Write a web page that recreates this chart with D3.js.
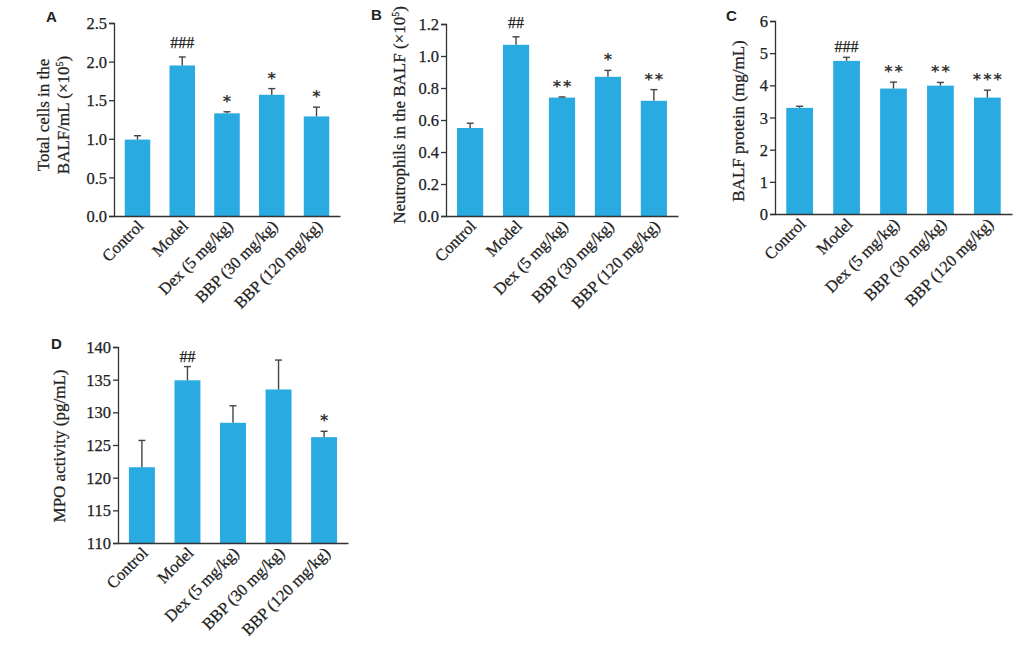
<!DOCTYPE html>
<html>
<head>
<meta charset="utf-8">
<script src="https://cdn.jsdelivr.net/npm/d3@7"></script>
<style>
  body { margin: 0; background: #fff; }
  svg text { font-family: "Liberation Serif", "Times New Roman", serif; fill: #222; stroke: #222; stroke-width: 0.25px; }
  .panel-label { font-family: "Liberation Sans", Arial, sans-serif !important; font-weight: bold; font-size: 15px; stroke-width: 0 !important; }
</style>
</head>
<body>
<svg id="chart" width="1031" height="666"></svg>
<script>
// groups shared by every panel
var groups = ["Control", "Model", "Dex (5 mg/kg)", "BBP (30 mg/kg)", "BBP (120 mg/kg)"];

// A: total cells in BALF (x10^5 /mL)
var cellsMean = [0.99, 1.95, 1.33, 1.57, 1.29];
var cellsErr  = [0.05, 0.11, 0.02, 0.08, 0.12];
var cellsSig  = ["", "###", "*", "*", "*"];
var cellsTicks = [0, 0.5, 1.0, 1.5, 2.0, 2.5];

// B: neutrophils in BALF (x10^5)
var neutMean = [0.55, 1.07, 0.74, 0.87, 0.72];
var neutErr  = [0.03, 0.05, 0.004, 0.04, 0.07];
var neutSig  = ["", "##", "**", "*", "**"];
var neutTicks = [0, 0.2, 0.4, 0.6, 0.8, 1.0, 1.2];

// C: BALF protein (mg/mL)
var protMean = [3.3, 4.76, 3.9, 3.99, 3.62];
var protErr  = [0.05, 0.11, 0.2, 0.1, 0.23];
var protSig  = ["", "###", "**", "**", "***"];
var protTicks = [0, 1, 2, 3, 4, 5, 6];

// D: MPO activity (pg/mL)
var mpoMean = [121.6, 134.9, 128.4, 133.5, 126.2];
var mpoErr  = [4.1, 2.1, 2.6, 4.5, 0.9];
var mpoSig  = ["", "##", "", "", "*"];
var mpoTicks = [110, 115, 120, 125, 130, 135, 140];

var barColor = "#29abe2",
    axisColor = "#333";

var svg = d3.select("#chart");

function isStar(s) { return s.charAt(0) == "*"; }

function drawPanel(p) {
    var g = svg.append("g");

    var x = d3.scaleBand()
        .domain(groups)
        .range([p.left, p.right])
        .paddingInner(0.43)
        .paddingOuter(0.24);

    var y = d3.scaleLinear()
        .domain([p.ticks[0], p.ticks[p.ticks.length - 1]])
        .range([p.bottom, p.top]);

    var rows = groups.map(function(name, i) {
        return { name: name, mean: p.mean[i], err: p.err[i], sig: p.sig[i] };
    });

    // bars
    g.selectAll(".bar")
        .data(rows)
        .enter().append("rect")
        .attr("class", "bar")
        .attr("x", function(d) { return x(d.name); })
        .attr("width", x.bandwidth())
        .attr("y", function(d) { return y(d.mean); })
        .attr("height", function(d) { return y(p.ticks[0]) - y(d.mean); })
        .style("fill", barColor);

    // error bars (upper half only)
    var eb = g.selectAll(".err")
        .data(rows)
        .enter().append("g")
        .attr("class", "err")
        .attr("stroke", "#444")
        .attr("stroke-width", 1.4);
    eb.append("line")
        .attr("x1", function(d) { return x(d.name) + x.bandwidth() / 2; })
        .attr("x2", function(d) { return x(d.name) + x.bandwidth() / 2; })
        .attr("y1", function(d) { return y(d.mean); })
        .attr("y2", function(d) { return y(d.mean + d.err); });
    eb.append("line")
        .attr("x1", function(d) { return x(d.name) + x.bandwidth() / 2 - 3.5; })
        .attr("x2", function(d) { return x(d.name) + x.bandwidth() / 2 + 3.5; })
        .attr("y1", function(d) { return y(d.mean + d.err); })
        .attr("y2", function(d) { return y(d.mean + d.err); });

    // significance marks: # in serif, * in a heavier sans
    g.selectAll(".sig")
        .data(rows)
        .enter().append("text")
        .attr("class", "sig")
        .attr("x", function(d) { return x(d.name) + x.bandwidth() / 2 + (isStar(d.sig) ? 1 : 0); })
        .attr("y", function(d) {
            var top = y(d.mean + d.err);
            return isStar(d.sig) ? top - 5 : top - p.hashGap;
        })
        .attr("text-anchor", "middle")
        .style("font-family", function(d) { return isStar(d.sig) ? "'DejaVu Sans', sans-serif" : null; })
        .style("font-weight", function(d) { return isStar(d.sig) ? "bold" : null; })
        .style("stroke-width", function(d) { return isStar(d.sig) ? "0px" : null; })
        .style("fill", function(d) { return isStar(d.sig) ? "#333" : null; })
        .style("font-size", "16px")
        .style("letter-spacing", function(d) { return isStar(d.sig) ? "2px" : "0px"; })
        .text(function(d) { return d.sig; });

    // y axis
    var yAxis = g.append("g")
        .attr("transform", "translate(" + p.left + ",0)")
        .call(d3.axisLeft(y).tickValues(p.ticks).tickFormat(d3.format(p.fmt)).tickSize(5).tickSizeOuter(5));
    yAxis.selectAll("text").style("font-size", "16.5px").attr("x", -7).attr("dy", "0.34em");

    // x axis line, no ticks
    var xAxis = g.append("g")
        .attr("transform", "translate(0," + p.bottom + ")")
        .call(d3.axisBottom(x).tickSize(0).tickSizeOuter(0));
    xAxis.selectAll("text")
        .attr("text-anchor", "end")
        .attr("x", 0).attr("y", 0).attr("dy", 0)
        .attr("transform", "translate(7,11) rotate(-45)")
        .style("font-size", "16.5px");

    [yAxis, xAxis].forEach(function(a) {
        a.selectAll("path, line").attr("stroke", axisColor).attr("stroke-width", 1.3);
    });

    // y title
    var title = g.append("text")
        .attr("transform", "translate(" + p.titleX + "," + p.titleY + ") rotate(-90)")
        .attr("text-anchor", "middle")
        .style("font-size", "17px");
    p.title.forEach(function(line, i) {
        var t = title.append("tspan").attr("x", 0).attr("dy", i == 0 ? 0 : 20);
        if (line.indexOf("^5") >= 0) {
            var parts = line.split("^5");
            t.text(parts[0]);
            title.append("tspan").attr("dy", -6).style("font-size", "10px").text("5");
            title.append("tspan").attr("dy", 6).text(parts[1]);
        } else {
            t.text(line);
        }
    });

    // panel letter
    svg.append("text")
        .attr("class", "panel-label")
        .attr("x", p.labelX)
        .attr("y", p.labelY)
        .text(p.label);
}

drawPanel({ label: "A", labelX: 46, labelY: 22,
    left: 114, right: 340, top: 23, bottom: 216,
    mean: cellsMean, err: cellsErr, sig: cellsSig, ticks: cellsTicks, fmt: ".1f", hashGap: 9,
    title: ["Total cells in the", "BALF/mL (\u00d710^5)"], titleX: 49, titleY: 115 });

drawPanel({ label: "B", labelX: 371, labelY: 20,
    left: 446, right: 678, top: 24, bottom: 216,
    mean: neutMean, err: neutErr, sig: neutSig, ticks: neutTicks, fmt: ".1f", hashGap: 9,
    title: ["Neutrophils  in the BALF (\u00d710^5)"], titleX: 405, titleY: 115 });

drawPanel({ label: "C", labelX: 726, labelY: 21,
    left: 775, right: 1012, top: 21, bottom: 214,
    mean: protMean, err: protErr, sig: protSig, ticks: protTicks, fmt: "d", hashGap: 5,
    title: ["BALF protein (mg/mL)"], titleX: 744, titleY: 121 });

drawPanel({ label: "D", labelX: 51, labelY: 349,
    left: 118, right: 348, top: 347, bottom: 543,
    mean: mpoMean, err: mpoErr, sig: mpoSig, ticks: mpoTicks, fmt: "d", hashGap: 5,
    title: ["MPO activity (pg/mL)"], titleX: 65, titleY: 446 });
</script>
</body>
</html>
